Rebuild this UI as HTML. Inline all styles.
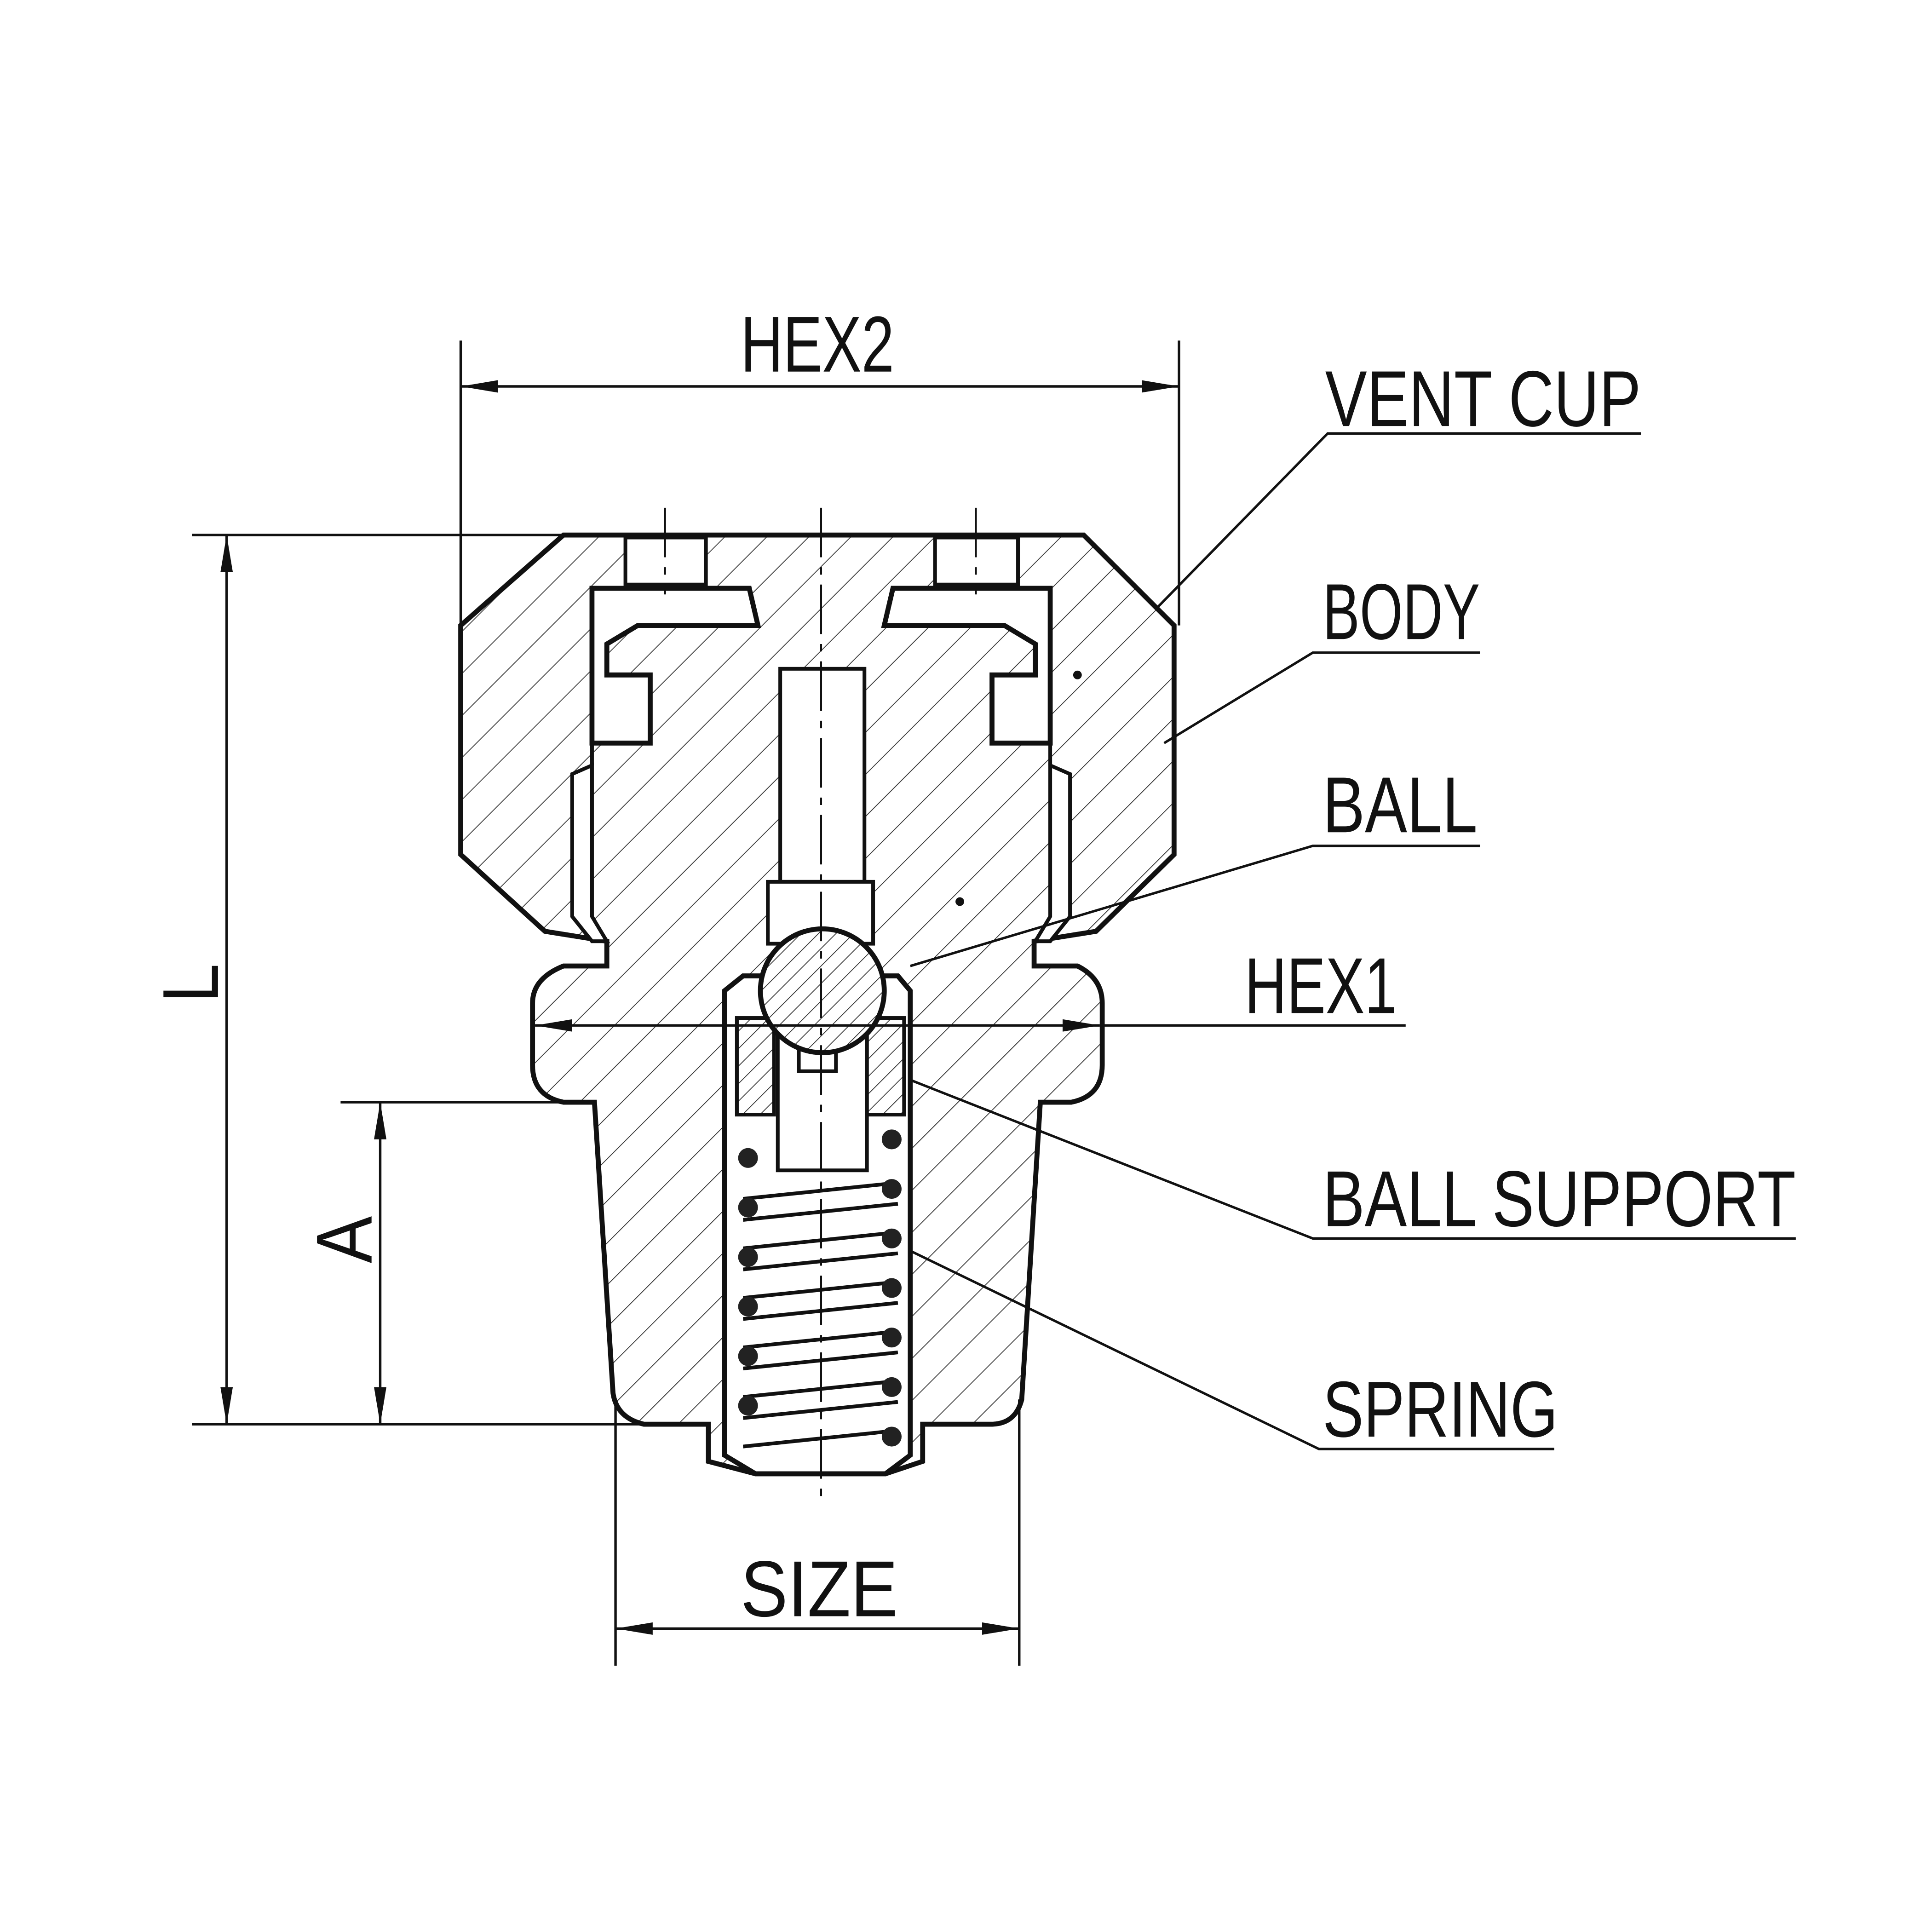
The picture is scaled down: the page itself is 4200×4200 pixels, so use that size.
<!DOCTYPE html>
<html><head><meta charset="utf-8"><style>
html,body{margin:0;padding:0;background:#fff}
svg{display:block}
text{font-family:"Liberation Sans",sans-serif;font-size:64px;fill:#111}
</style></head><body>
<svg width="4200" height="4200" viewBox="0 0 1560 1560" xmlns="http://www.w3.org/2000/svg">
<defs>
<pattern id="h" patternUnits="userSpaceOnUse" width="24" height="24" patternTransform="rotate(45)">
<rect width="24" height="24" fill="#fff"/><line x1="0" y1="0" x2="0" y2="24" stroke="#333" stroke-width="1.3"/>
</pattern>
<pattern id="h2" patternUnits="userSpaceOnUse" width="10" height="10" patternTransform="rotate(45)">
<rect width="10" height="10" fill="#fff"/><line x1="0" y1="0" x2="0" y2="10" stroke="#333" stroke-width="1.3"/>
</pattern>
<marker id="a" viewBox="0 0 30 10" refX="30" refY="5" markerWidth="30" markerHeight="10" orient="auto-start-reverse" markerUnits="userSpaceOnUse">
<path d="M0,0 L30,5 L0,10 Z" fill="#111"/></marker>
</defs>
<g stroke="#111" fill="none">
<path fill="url(#h)" stroke-width="4" d="M455,432 L875,432 L948,505 L948,690 L885,752 L835,760 L835,780 L870,780 Q890,790 890,810 L890,860 Q890,885 865,890 L840,890 L825,1130 Q820,1150 800,1150 L745,1150 L745,1180 L715,1190 L610,1190 L572,1180 L572,1150 L520,1150 Q498,1145 495,1125 L480,890 L455,890 Q430,885 430,860 L430,810 Q430,790 455,780 L490,780 L490,760 L440,752 L372,690 L372,505 Z"/>
<rect x="505" y="434" width="65" height="38" fill="#fff" stroke-width="3"/>
<rect x="755" y="434" width="67" height="38" fill="#fff" stroke-width="3"/>
<path fill="#fff" stroke-width="4" d="M478,475 L605,475 L612,505 L515,505 L490,520 L490,545 L525,545 L525,600 L478,600 Z"/>
<path fill="#fff" stroke-width="4" d="M848,475 L721,475 L714,505 L811,505 L836,520 L836,545 L801,545 L801,600 L848,600 Z"/>
<path fill="#fff" stroke-width="3" d="M462,625 L478,618 L478,740 L490,760 L478,760 L462,740 Z"/>
<path fill="#fff" stroke-width="3" d="M864,625 L848,618 L848,740 L836,760 L848,760 L864,740 Z"/>
<line x1="478" y1="600" x2="478" y2="618" stroke-width="3"/>
<line x1="848" y1="600" x2="848" y2="618" stroke-width="3"/>
<rect x="630" y="540" width="68" height="172" fill="#fff" stroke-width="3"/>
<rect x="620" y="712" width="85" height="50" fill="#fff" stroke-width="3"/>
<path fill="#fff" stroke-width="4" d="M600,788 L725,788 L735,800 L735,1175 L715,1190 L610,1190 L585,1175 L585,800 Z"/>
<rect x="595" y="822" width="30" height="78" fill="url(#h2)" stroke-width="3"/>
<rect x="700" y="822" width="30" height="78" fill="url(#h2)" stroke-width="3"/>
<path d="M628,830 L628,945 L700,945 L700,830" stroke-width="3"/>
<rect x="645" y="845" width="30" height="20" fill="#fff" stroke-width="3"/>
<g stroke-width="3">
<line x1="600" y1="968" x2="725" y2="955"/><line x1="600" y1="1008" x2="725" y2="995"/>
<line x1="600" y1="1048" x2="725" y2="1035"/><line x1="600" y1="1088" x2="725" y2="1075"/>
<line x1="600" y1="1128" x2="725" y2="1115"/><line x1="600" y1="1168" x2="725" y2="1155"/>
<line x1="600" y1="985" x2="725" y2="972"/><line x1="600" y1="1025" x2="725" y2="1012"/>
<line x1="600" y1="1065" x2="725" y2="1052"/><line x1="600" y1="1105" x2="725" y2="1092"/>
<line x1="600" y1="1145" x2="725" y2="1132"/>
</g>
<g fill="#222" stroke="none">
<circle cx="604" cy="935" r="8"/><circle cx="604" cy="975" r="8"/><circle cx="604" cy="1015" r="8"/><circle cx="604" cy="1055" r="8"/><circle cx="604" cy="1095" r="8"/><circle cx="604" cy="1135" r="8"/>
<circle cx="720" cy="920" r="8"/><circle cx="720" cy="960" r="8"/><circle cx="720" cy="1000" r="8"/><circle cx="720" cy="1040" r="8"/><circle cx="720" cy="1080" r="8"/><circle cx="720" cy="1120" r="8"/><circle cx="720" cy="1160" r="8"/>
</g>
<circle cx="664" cy="800" r="50" fill="url(#h2)" stroke-width="4"/>
<g stroke-width="1.5" stroke-dasharray="40,8,6,8">
<line x1="663" y1="410" x2="663" y2="1215"/>
<line x1="537" y1="410" x2="537" y2="480"/>
<line x1="788" y1="410" x2="788" y2="480"/>
</g>
<g stroke-width="2">
<line x1="155" y1="432" x2="455" y2="432"/>
<line x1="155" y1="1150" x2="520" y2="1150"/>
<line x1="275" y1="890" x2="480" y2="890"/>
<line x1="372" y1="275" x2="372" y2="505"/>
<line x1="952" y1="275" x2="952" y2="505"/>
<line x1="497" y1="1130" x2="497" y2="1345"/>
<line x1="823" y1="1130" x2="823" y2="1345"/>
<line x1="372" y1="312" x2="952" y2="312" marker-start="url(#a)" marker-end="url(#a)"/>
<line x1="183" y1="432" x2="183" y2="1150" marker-start="url(#a)" marker-end="url(#a)"/>
<line x1="307" y1="890" x2="307" y2="1150" marker-start="url(#a)" marker-end="url(#a)"/>
<line x1="497" y1="1315" x2="823" y2="1315" marker-start="url(#a)" marker-end="url(#a)"/>
<line x1="432" y1="828" x2="888" y2="828" marker-start="url(#a)" marker-end="url(#a)"/>
<line x1="888" y1="828" x2="1135" y2="828"/>
<polyline points="935,490 1072,350 1325,350"/>
<polyline points="940,600 1060,527 1195,527"/>
<polyline points="735,780 1060,683 1195,683"/>
<polyline points="735,872 1060,1000 1450,1000"/>
<polyline points="735,1010 1065,1170 1255,1170"/>
</g>
<circle cx="870" cy="545" r="3" fill="#111"/>
<circle cx="775" cy="728" r="3" fill="#111"/>
</g>
<text x="598" y="300" textLength="124" lengthAdjust="spacingAndGlyphs">HEX2</text>
<text x="1070" y="344" textLength="255" lengthAdjust="spacingAndGlyphs">VENT CUP</text>
<text x="1068" y="516" textLength="127" lengthAdjust="spacingAndGlyphs">BODY</text>
<text x="1068" y="672" textLength="125" lengthAdjust="spacingAndGlyphs">BALL</text>
<text x="1005" y="818" textLength="123" lengthAdjust="spacingAndGlyphs">HEX1</text>
<text x="1068" y="990" textLength="382" lengthAdjust="spacingAndGlyphs">BALL SUPPORT</text>
<text x="1068" y="1160" textLength="190" lengthAdjust="spacingAndGlyphs">SPRING</text>
<text x="598" y="1305" textLength="127" lengthAdjust="spacingAndGlyphs">SIZE</text>
<text transform="translate(176,810) rotate(-90)" textLength="32" lengthAdjust="spacingAndGlyphs">L</text>
<text transform="translate(300,1020) rotate(-90)" textLength="38" lengthAdjust="spacingAndGlyphs">A</text>
</svg>
</body></html>
